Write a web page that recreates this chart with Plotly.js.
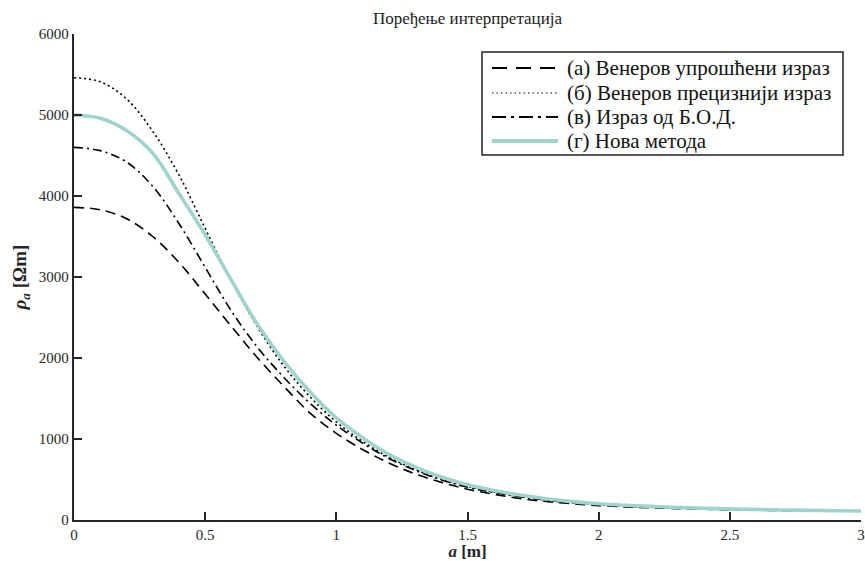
<!DOCTYPE html>
<html>
<head>
<meta charset="utf-8">
<script src="https://cdn.plot.ly/plotly-3.0.1.min.js"></script>
<style>html,body{margin:0;padding:0;background:#fff;}#chart{width:865px;height:561px;}</style>
</head>
<body>
<div id="chart"></div>
<script>
// distance a [m]
const aValues = [0,0.1,0.2,0.3,0.4,0.5,0.6,0.7,0.8,0.9,1.0,1.1,1.2,1.3,1.4,1.5,1.6,1.7,1.8,1.9,2.0,2.1,2.2,2.3,2.4,2.5,2.6,2.7,2.8,2.9,3.0];
// (а) Венеров упрошћени израз
const seriesA = [3860,3830,3720,3500,3180,2790,2390,2000,1650,1320,1070,870,705,570,465,380,318,265,228,200,178,162,150,140,132,126,121,117,113,110,107];
// (б) Венеров прецизнији израз
const seriesB = [5460,5410,5200,4800,4260,3600,2950,2380,1900,1520,1210,970,775,625,505,415,345,290,248,214,190,172,158,147,138,131,125,120,116,112,109];
// (в) Израз од Б.О.Д.
const seriesC = [4600,4560,4420,4120,3660,3120,2580,2130,1760,1440,1170,950,760,615,495,405,340,286,245,212,188,171,157,146,137,130,124,119,115,111,108];
// (г) Нова метода
const seriesD = [5000,4960,4810,4530,4030,3520,2960,2410,1960,1580,1260,1015,810,655,530,435,365,308,263,227,200,182,168,155,145,137,130,124,119,115,111];

const names = ['(а) Венеров упрошћени израз','(б) Венеров прецизнији израз','(в) Израз од Б.О.Д.','(г) Нова метода'];
const xTicks = [0,0.5,1,1.5,2,2.5,3];
const xTickText = ['0','0.5','1','1.5','2','2.5','3'];
const yTicks = [0,1000,2000,3000,4000,5000,6000];
const yTickText = ['0','1000','2000','3000','4000','5000','6000'];

const serif = "'Liberation Serif', 'Times New Roman', serif";
const axisColor = '#262626';
const teal = '#9ed4cc';

const styles = [
  {color:'#000', width:1.6, dash:'10px,6px'},
  {color:'#000', width:1.6, dash:'2px,3px'},
  {color:'#000', width:1.6, dash:'9px,4px,2px,4px'},
  {color:teal, width:3.6}
];
const legendStyles = [
  {color:'#000', width:2, dash:'15px,9px'},
  {color:'#000', width:1.2, dash:'1.5px,3px'},
  {color:'#000', width:2, dash:'14px,5px,3px,5px'},
  {color:teal, width:4}
];
const seriesList = [seriesA, seriesB, seriesC, seriesD];

const traces = seriesList.map((s,i) => ({
  x:aValues, y:s, name:names[i], mode:'lines', showlegend:false,
  line:Object.assign({shape:'spline'}, styles[i])
}));

// plot area in pixels: x 74..861, y 34..520
const px = v => (v-74)/787;
const py = v => (520-v)/486;

const shapes = [{type:'rect', xref:'paper', yref:'paper', x0:px(482), x1:px(843), y0:py(155), y1:py(52),
                 line:{color:'#222', width:1.5}, fillcolor:'#fff', layer:'above'}];
const annotations = [];
const rowY = [68, 93, 117, 141];
names.forEach((n,i) => {
  shapes.push({type:'line', xref:'paper', yref:'paper', x0:px(492), x1:px(558), y0:py(rowY[i]), y1:py(rowY[i]),
               line:legendStyles[i], layer:'above'});
  annotations.push({xref:'paper', yref:'paper', x:px(565), y:py(rowY[i]), xanchor:'left', yanchor:'middle',
                    text:n, showarrow:false, font:{family:serif, size:21, color:'#111'}});
});

const layout = {
  width:865, height:561,
  margin:{l:74, r:4, t:34, b:41},
  paper_bgcolor:'#fff', plot_bgcolor:'#fff',
  font:{family:serif, size:15, color:axisColor},
  title:{text:'Поређење интерпретација', font:{family:serif, size:17, color:'#222'}, xref:'paper', x:0.5, xanchor:'center', yref:'container', y:1-18/561, yanchor:'middle'},
  xaxis:{range:[0,3], tickvals:xTicks, ticktext:xTickText, ticks:'inside', ticklen:8, tickwidth:2, tickcolor:axisColor,
         showline:true, linewidth:2.2, linecolor:axisColor, showgrid:false, zeroline:false,
         tickfont:{family:serif, size:15, color:axisColor},
         title:{text:'<b><i>a</i> [m]</b>', font:{family:serif, size:17, color:axisColor}, standoff:2}},
  yaxis:{range:[0,6000], tickvals:yTicks, ticktext:yTickText, ticks:'inside', ticklen:8, tickwidth:2, tickcolor:axisColor,
         showline:true, linewidth:2.2, linecolor:axisColor, showgrid:false, zeroline:false,
         tickfont:{family:serif, size:15, color:axisColor},
         title:{text:'<b><i>ρ</i><sub><i>a</i></sub> [Ωm]</b>', font:{family:serif, size:19, color:axisColor}, standoff:7}},
  showlegend:false,
  shapes:shapes,
  annotations:annotations
};

Plotly.newPlot('chart', traces, layout, {displayModeBar:false, staticPlot:true});
</script>
</body>
</html>
